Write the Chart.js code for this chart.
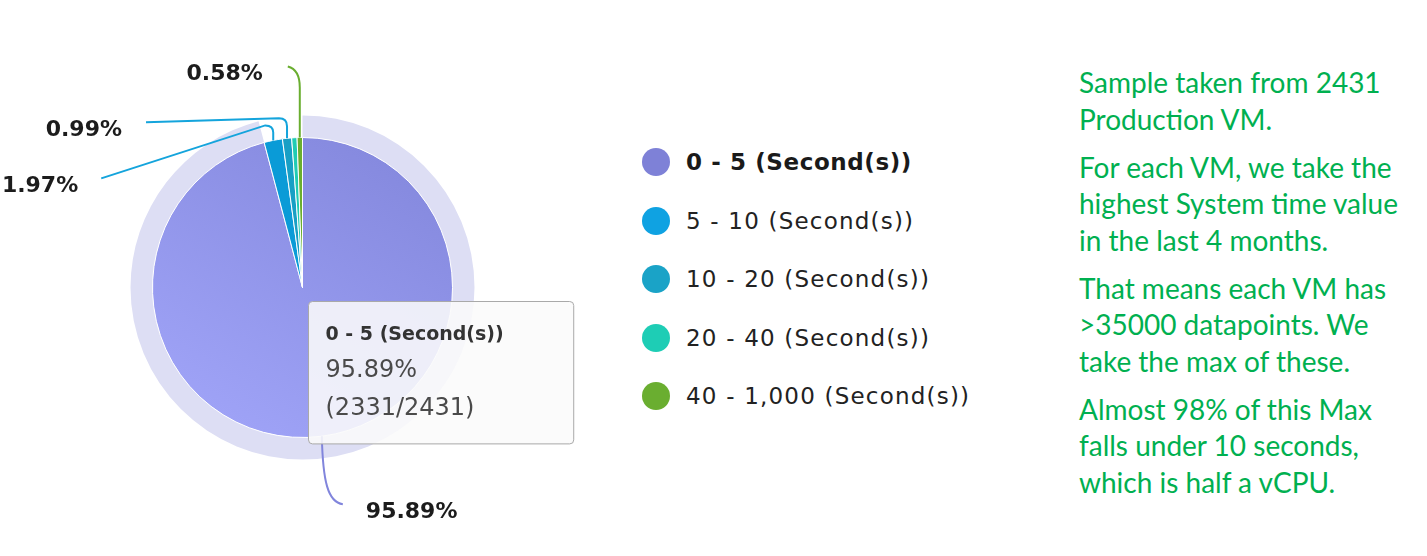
<!DOCTYPE html>
<html>
<head>
<meta charset="utf-8">
<script src="https://cdn.jsdelivr.net/npm/chart.js@4/dist/chart.umd.min.js"></script>
<style>
  body { margin: 0; background: #fff; width: 1427px; height: 556px; overflow: hidden; position: relative; font-family: "DejaVu Sans", sans-serif; }
  #wrap { position: absolute; left: 0; top: 0; width: 604px; height: 556px; }
  #legend { position: absolute; left: 642px; top: 0; }
  .item { position: absolute; left: 0; display: flex; align-items: center; white-space: nowrap; font-size: 23px; letter-spacing: 1.2px; color: #222; height: 30px; }
  .item.bold { font-weight: bold; color: #1a1a1a; letter-spacing: 0.6px; }
  .dot { width: 28px; height: 28px; border-radius: 50%; margin-right: 16px; flex: none; }
  #notes { position: absolute; left: 1079px; top: 64px; color: #00b050; font-family: Lato, sans-serif; font-size: 28px; line-height: 36.5px; white-space: nowrap; }
  #notes p { margin: 0 0 11.5px 0; }
</style>
</head>
<body>
<div id="wrap"><canvas id="pieChart" width="604" height="556"></canvas></div>
<div id="legend"></div>
<div id="notes">
  <p>Sample taken from 2431<br>Production VM.</p>
  <p>For each VM, we take the<br>highest System time value<br>in the last 4 months.</p>
  <p>That means each VM has<br>&gt;35000 datapoints. We<br>take the max of these.</p>
  <p>Almost 98% of this Max<br>falls under 10 seconds,<br>which is half a vCPU.</p>
</div>
<script>
// data
const categories = ['0 - 5 (Second(s))', '5 - 10 (Second(s))', '10 - 20 (Second(s))', '20 - 40 (Second(s))', '40 - 1,000 (Second(s))'];
const vmCounts = [2331, 48, 24, 14, 14];
const totalVMs = 2431;
const sliceColors = ['#8e92e6', '#0a9bd7', '#189fc5', '#20ccb4', '#6aae30'];
const legendColors = ['#7e81d7', '#0fa2e2', '#1aa3c7', '#1ecdb5', '#6aae30'];
const shownLabels = [true, true, true, false, true];

const pct = v => (v / totalVMs * 100).toFixed(2) + '%';

// leader line shapes, relative to the slice's outer edge point
const leaders = [
  { path(c, a) { c.moveTo(a.x, a.y); c.bezierCurveTo(a.x + 1, a.y + 45, a.x + 6, a.y + 66, a.x + 21, a.y + 68); }, tx: 44, ty: 76, align: 'left' },
  { path(c, a) { c.moveTo(a.x, a.y); c.lineTo(a.x, a.y - 8); c.quadraticCurveTo(a.x, a.y - 15, a.x - 8, a.y - 15); c.lineTo(a.x - 172, a.y + 38); }, tx: -195, ty: 46, align: 'right' },
  { path(c, a) { c.moveTo(a.x, a.y); c.lineTo(a.x, a.y - 12); c.quadraticCurveTo(a.x, a.y - 20, a.x - 8, a.y - 20); c.lineTo(a.x - 141, a.y - 16); }, tx: -165, ty: -8, align: 'right' },
  null,
  { path(c, a) { c.moveTo(a.x, a.y); c.lineTo(a.x, a.y - 50); c.quadraticCurveTo(a.x, a.y - 68, a.x - 12, a.y - 71); }, tx: -37, ty: -63, align: 'right' }
];

// halo behind the hovered slice + outside labels
const pieExtras = {
  id: 'pieExtras',
  beforeDatasetsDraw(chart) {
    const arc = chart.getDatasetMeta(0).data[0];
    const ctx = chart.ctx;
    ctx.save();
    ctx.beginPath();
    ctx.arc(arc.x, arc.y, arc.outerRadius + 22, arc.startAngle, arc.endAngle);
    ctx.arc(arc.x, arc.y, arc.outerRadius, arc.endAngle, arc.startAngle, true);
    ctx.closePath();
    ctx.fillStyle = '#dddef4';
    ctx.fill();
    ctx.restore();
  },
  afterDatasetsDraw(chart) {
    const ctx = chart.ctx;
    chart.getDatasetMeta(0).data.forEach((arc, i) => {
      const lead = leaders[i];
      if (!shownLabels[i] || !lead) return;
      const mid = (arc.startAngle + arc.endAngle) / 2;
      const a = { x: arc.x + Math.cos(mid) * arc.outerRadius, y: arc.y + Math.sin(mid) * arc.outerRadius };
      ctx.save();
      ctx.beginPath();
      lead.path(ctx, a);
      ctx.strokeStyle = i === 0 ? '#8185dc' : (i === 2 ? '#14a4dc' : (i === 1 ? '#14a4dc' : sliceColors[i]));
      ctx.lineWidth = 2;
      ctx.stroke();
      ctx.font = 'bold 22px "DejaVu Sans"';
      ctx.fillStyle = '#1c1c1c';
      ctx.textAlign = lead.align;
      ctx.textBaseline = 'middle';
      ctx.fillText(pct(vmCounts[i]), a.x + lead.tx, a.y + lead.ty);
      ctx.restore();
    });
  }
};

Chart.Tooltip.positioners.pinned = function () {
  const area = this.chart.chartArea;
  return { x: (area.left + area.right) / 2 + 10, y: (area.top + area.bottom) / 2 + 14 };
};

const ctx = document.getElementById('pieChart').getContext('2d');
const pieChart = new Chart(ctx, {
  type: 'pie',
  data: {
    labels: categories,
    datasets: [{
      data: vmCounts,
      backgroundColor: function (context) {
        const i = context.dataIndex;
        const area = context.chart.chartArea;
        if (i !== 0 || !area) return sliceColors[i];
        const cx = (area.left + area.right) / 2;
        const g = context.chart.ctx.createLinearGradient(cx + 90, area.top, cx - 90, area.bottom);
        g.addColorStop(0, '#8488dd');
        g.addColorStop(1, '#a0a4f8');
        return g;
      },
      borderColor: '#ffffff',
      borderWidth: 1,
      hoverOffset: 0
    }]
  },
  options: {
    responsive: false,
    animation: false,
    events: [],
    layout: { padding: { left: 152, right: 151, top: 137, bottom: 118 } },
    plugins: {
      legend: { display: false },
      tooltip: {
        position: 'pinned',
        xAlign: 'left',
        yAlign: 'top',
        caretSize: 0,
        caretPadding: 0,
        cornerRadius: 4,
        backgroundColor: 'rgba(250,250,251,0.88)',
        borderColor: '#a9a9a9',
        borderWidth: 1,
        titleColor: '#333333',
        titleFont: { family: 'DejaVu Sans', size: 19, weight: 'bold' },
        bodyColor: '#4a4a4a',
        bodyFont: { family: 'DejaVu Sans', size: 24 },
        padding: { top: 22, bottom: 21, left: 17, right: 70 },
        titleMarginBottom: 10,
        bodySpacing: 9,
        displayColors: false,
        callbacks: {
          title: items => categories[items[0].dataIndex],
          label: item => [pct(vmCounts[item.dataIndex]), '(' + vmCounts[item.dataIndex] + '/' + totalVMs + ')']
        }
      }
    }
  },
  plugins: [pieExtras]
});

pieChart.tooltip.setActiveElements([{ datasetIndex: 0, index: 0 }], { x: 0, y: 0 });
pieChart.update();

// legend
const legend = document.getElementById('legend');
categories.forEach((name, i) => {
  const item = document.createElement('div');
  item.className = 'item' + (i === 0 ? ' bold' : '');
  item.style.top = (147 + i * 58.5) + 'px';
  const dot = document.createElement('span');
  dot.className = 'dot';
  dot.style.background = legendColors[i];
  item.appendChild(dot);
  item.appendChild(document.createTextNode(name));
  legend.appendChild(item);
});
</script>
</body>
</html>
